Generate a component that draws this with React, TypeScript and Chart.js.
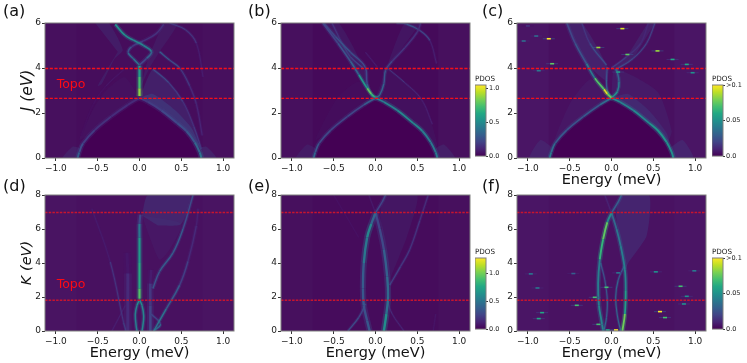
import React, { useEffect, useRef } from "react";
import { Chart, registerables } from "chart.js";

Chart.register(...registerables);

const FONT = '"DejaVu Sans"';
const energyTicks = [-1, -0.5, 0, 0.5, 1];
const jTicks = [0, 2, 4, 6];
const kTicks = [0, 2, 4, 6, 8];
const jLines = [2.65, 3.98];
const kLines = [1.81, 6.97];
const viridisStops = ["#440154", "#482475", "#414487", "#355f8d", "#2a788e", "#21918c", "#22a884", "#44bf70", "#7ad151", "#bddf26", "#fde725"];

// Panel (a): ridges as [energy, J, PDOS level]
const aLowR = [[0.74, 0, 0.4], [0.72, 0.25, 0.36], [0.66, 0.7, 0.28], [0.56, 1.2, 0.24], [0.45, 1.55, 0.22], [0.26, 2.12, 0.2], [0.1, 2.49, 0.16], [0, 2.67, 0.16]];
const aLowL = [[-0.74, 0, 0.34], [-0.72, 0.25, 0.26], [-0.675, 0.65, 0.2], [-0.535, 1.24, 0.15], [-0.337, 1.84, 0.13], [-0.14, 2.36, 0.12], [0, 2.67, 0.12]];
const aCenter = [[0, 2.75, 0.85], [0, 3.1, 0.8], [0, 3.6, 0.6], [0, 4.1, 0.5]];
const aCrossA = [[-0.29, 5.94, 0.5], [-0.175, 5.46, 0.5], [-0.075, 5.24, 0.45], [0.044, 5.01, 0.45], [0.143, 4.72, 0.4], [0.083, 4.42, 0.22], [0, 4.13, 0.2]];
const aCrossB = [[0, 4.13, 0.4], [-0.075, 4.42, 0.38], [-0.135, 4.68, 0.3], [-0.095, 4.94, 0.18], [0.044, 5.2, 0.14], [0.2, 5.53, 0.14], [0.29, 5.94, 0.14]];
const aRightA = [[0.24, 4.72, 0.3], [0.36, 4.35, 0.28], [0.48, 4.0, 0.2], [0.6, 3.2, 0.13], [0.68, 2.4, 0.1], [0.75, 1, 0.1]];
const aRightB = [[0.16, 3.95, 0.25], [0.35, 3.35, 0.2], [0.52, 2.5, 0.15], [0.65, 1.4, 0.13], [0.74, 0.4, 0.18]];
const aRightC = [[0.36, 6, 0.14], [0.55, 5.7, 0.2], [0.68, 5.1, 0.1], [0.76, 3.6, 0.06]];
const aLeftThin = [[-0.18, 3.95, 0.07], [-0.4, 3.2, 0.06], [-0.55, 2.4, 0.04], [-0.7, 1, 0.04]];
const aFanRight = [[0, 2.67], [0.16, 3.95], [0.35, 3.35], [0.52, 2.5], [0.65, 1.4], [0.74, 0.4], [0.56, 1.2], [0.26, 2.12]];
const aFanHug = [[0.02, 2.7], [0.16, 2.85], [0.42, 2.15], [0.62, 1.35], [0.74, 0.35], [0.56, 1.2], [0.26, 2.12]];
const aFanLeft = [[0, 2.67], [-0.18, 3.6], [-0.4, 3.0], [-0.55, 2.2], [-0.72, 0.8], [-0.535, 1.24], [-0.14, 2.36]];
const aBandL = [[-0.53, 6], [-0.37, 6], [-0.2, 4.8], [-0.3, 4.4], [-0.45, 3.3], [-0.5, 3.2], [-0.26, 4.72]];
const aBandR = [[0.28, 6], [0.46, 6], [0.24, 4.72], [0.12, 4.0], [0.02, 3.2], [0.1, 4.4]];
const aGlowR = [[0.74, 0], [0.92, 0], [0.8, 0.5], [0.72, 0.45]];
const aGlowL = [[-0.74, 0], [-0.92, 0], [-0.8, 0.5], [-0.72, 0.45]];

// Panel (b)
const bLowR = [[0.74, 0, 0.42], [0.72, 0.25, 0.4], [0.66, 0.7, 0.4], [0.56, 1.2, 0.42], [0.45, 1.55, 0.48], [0.26, 2.12, 0.46], [0.1, 2.49, 0.4], [0, 2.67, 0.4]];
const bLowL = [[-0.74, 0, 0.35], [-0.72, 0.25, 0.3], [-0.675, 0.65, 0.24], [-0.535, 1.24, 0.2], [-0.337, 1.84, 0.2], [-0.14, 2.36, 0.22], [0, 2.67, 0.35]];
const bUpL = [[0, 2.67, 0.5], [-0.05, 2.85, 0.8], [-0.1, 3.1, 0.7], [-0.2, 3.7, 0.35], [-0.3, 4.3, 0.28], [-0.45, 5.1, 0.22], [-0.63, 6, 0.18]];
const bUpL2 = [[-0.62, 6, 0.18], [-0.48, 5.4, 0.26], [-0.3, 4.7, 0.25], [-0.125, 4.05, 0.22], [-0.1, 3.3, 0.2], [-0.045, 2.8, 0.3], [0, 2.67, 0.35]];
const bUpL3 = [[-0.52, 6, 0.12], [-0.4, 5.1, 0.18], [-0.3, 4.5, 0.2], [-0.15, 4, 0.2]];
const bUpR = [[0, 2.67, 0.4], [0.05, 2.8, 0.35], [0.1, 3.3, 0.28], [0.12, 3.9, 0.25], [0.2, 4.3, 0.16], [0.35, 4.9, 0.14], [0.5, 5.6, 0.14], [0.54, 6, 0.12]];
const bThin = [[0.14, 4, 0.18], [0.35, 3.35, 0.14], [0.55, 2.6, 0.1], [0.68, 1.5, 0.08]];
const bTop = [[0.25, 6, 0.16], [0.37, 5.95, 0.22], [0.53, 5.67, 0.3], [0.65, 5.22, 0.12], [0.73, 4.2, 0.05]];
const bMid = [[-0.12, 4.7, 0.08], [0.02, 4.05, 0.08]];
const bFanR = [[0, 2.67], [0.14, 3.9], [0.38, 3.25], [0.6, 2.3], [0.74, 0.5], [0.56, 1.2], [0.26, 2.12]];
const bFanL = [[0, 2.67], [-0.2, 3.4], [-0.45, 2.7], [-0.72, 0.8], [-0.535, 1.24]];
const bBandL = [[-0.63, 6], [-0.44, 6], [-0.14, 4], [-0.07, 3], [-0.3, 4.3]];
const bBandR = [[0.54, 6], [0.35, 6], [0.16, 4.3], [0.1, 3.5], [0.2, 4.3]];
const bGlowR = [[0.74, 0], [0.95, 0], [0.82, 0.6], [0.72, 0.45]];
const bGlowL = [[-0.74, 0], [-0.95, 0], [-0.82, 0.6], [-0.72, 0.45]];

// Panel (c)
const cLowR = [[0.74, 0, 0.5], [0.72, 0.25, 0.48], [0.66, 0.7, 0.5], [0.56, 1.2, 0.52], [0.45, 1.55, 0.5], [0.26, 2.12, 0.44], [0.1, 2.49, 0.42], [0, 2.67, 0.5]];
const cLowL = [[-0.74, 0, 0.42], [-0.72, 0.25, 0.4], [-0.675, 0.65, 0.3], [-0.535, 1.24, 0.26], [-0.337, 1.84, 0.26], [-0.14, 2.36, 0.3], [0, 2.67, 0.4]];
const cUpL = [[0, 2.67, 0.6], [-0.05, 2.85, 0.95], [-0.09, 3.05, 0.95], [-0.2, 3.55, 0.5], [-0.3, 4.2, 0.3], [-0.435, 5.1, 0.22], [-0.535, 6, 0.2]];
const cUpLb = [[-0.06, 4.13, 0.3], [-0.26, 5.1, 0.18], [-0.355, 6, 0.14]];
const cUpRa = [[0.04, 3.9, 0.25], [0.26, 4.43, 0.2], [0.42, 5.1, 0.2], [0.52, 6, 0.18]];
const cUpRb = [[0, 4.0, 0.2], [0.18, 4.5, 0.15], [0.35, 5.1, 0.12], [0.44, 6, 0.1]];
const cInL = [[0, 2.67, 0.5], [-0.05, 3, 0.35], [-0.06, 3.5, 0.25], [-0.05, 4.05, 0.22]];
const cInR = [[0, 2.67, 0.5], [0.07, 2.95, 0.5], [0.09, 3.4, 0.35], [0.06, 3.95, 0.3]];
const cBandL = [[-0.535, 6], [-0.355, 6], [-0.06, 4.13], [-0.05, 3.4], [-0.3, 4.2], [-0.435, 5.1]];
const cBandR = [[0.52, 6], [0.44, 6], [0.18, 4.5], [0, 4], [0.04, 3.9], [0.26, 4.43]];
const cFanR = [[0, 2.67], [0.04, 3.95], [0.55, 2.95], [0.72, 1.2], [0.66, 0.7], [0.26, 2.12]];
const cFanHug = [[0.02, 2.7], [0.2, 2.85], [0.45, 2.1], [0.66, 1.1], [0.72, 0.25], [0.56, 1.2], [0.26, 2.12]];
const cFanL = [[0, 2.67], [-0.25, 3.5], [-0.5, 2.4], [-0.72, 0.4], [-0.535, 1.24]];
const cGlowR = [[0.74, 0], [0.98, 0], [0.85, 0.8], [0.7, 0.45]];
const cGlowL = [[-0.74, 0], [-0.98, 0], [-0.85, 0.8], [-0.7, 0.45]];
const cSpots = [[-1.0, 5.87, 0.15], [-0.9, 5.42, 0.35], [-0.75, 5.3, 1], [-1.05, 5.2, 0.35], [0.13, 5.75, 0.95], [-0.157, 4.91, 0.85], [0.19, 4.6, 0.75], [0.55, 4.76, 0.85], [0.73, 4.38, 0.6], [0.9, 4.16, 0.6], [0.97, 3.79, 0.5], [-0.71, 4.19, 0.75], [-0.87, 3.88, 0.4], [0.08, 3.82, 0.55]];

// Panel (d)
const dCenter = [[0, 1.9, 0.8], [0, 2.5, 0.65], [0, 4, 0.58], [0, 5.5, 0.5], [0, 6.3, 0.3], [0.01, 6.85, 0.12]];
const dLobeL = [[0, 1.85, 0.5], [-0.03, 1.5, 0.45], [-0.05, 1, 0.42], [-0.04, 0.3, 0.42], [-0.03, 0, 0.42]];
const dLobeR = [[0, 1.85, 0.5], [0.03, 1.5, 0.45], [0.05, 0.9, 0.45], [0.04, 0.3, 0.45], [0.03, 0, 0.45]];
const dRightA = [[0.17, 0, 0.45], [0.32, 1.3, 0.32], [0.48, 2.7, 0.25], [0.58, 4.1, 0.12], [0.68, 6.2, 0.12], [0.7, 7.2, 0.05]];
const dRightB = [[0.16, 2.5, 0.22], [0.24, 3.5, 0.3], [0.4, 4.6, 0.28], [0.52, 6, 0.28], [0.64, 8, 0.18]];
const dBandR = [[0.13, 0, 0.2], [0.13, 1.5, 0.2], [0.13, 2.8, 0.12], [0.14, 3.6, 0.03]];
const dBandL = [[-0.14, 0, 0.1], [-0.14, 2, 0.14], [-0.14, 3.4, 0.1], [-0.15, 4.6, 0.02]];
const dLeftA = [[-0.57, 7.2, 0.05], [-0.35, 4.07, 0.1], [-0.19, 0.5, 0.2], [-0.16, 0, 0.22]];
const dLeftB = [[-0.33, 0, 0.06], [-0.17, 1.5, 0.12]];
const dCrossR = [[0.17, 0, 0.4], [0.25, 0.4, 0.3], [0.14, 1, 0.1]];
const dFanTop = [[0.03, 6.8], [0.1, 8], [0.6, 8], [0.5, 6.3], [0.22, 6.2]];
const dFanTail = [[0.03, 6.8], [0.5, 6.3], [0.36, 4.8], [0.24, 4.2], [0.1, 5.8]];

// Panel (e)
const eLensL = [[0, 6.95, 0.25], [-0.05, 6.3, 0.4], [-0.1, 5.5, 0.5], [-0.14, 4, 0.28], [-0.15, 2.5, 0.3], [-0.14, 1.5, 0.25], [-0.1, 0.6, 0.25], [-0.07, 0, 0.3]];
const eLensR = [[0, 6.95, 0.18], [0.05, 6, 0.22], [0.1, 4.8, 0.22], [0.14, 3.2, 0.38], [0.15, 2, 0.3], [0.13, 1, 0.42], [0.1, 0, 0.55]];
const eTopR = [[0, 6.95, 0.18], [0.08, 7.6, 0.22], [0.12, 8, 0.22]];
const eTopL = [[0, 6.95, 0.1], [-0.08, 8, 0.05]];
const eCrossL = [[-0.33, 0, 0.24], [-0.2, 0.8, 0.22], [-0.12, 1.6, 0.2]];
const eCrossR = [[0.34, 0, 0.1], [0.2, 1, 0.12], [0.14, 1.8, 0.14]];
const eOuter = [[0.17, 2.7, 0.2], [0.3, 3.8, 0.16], [0.41, 4.8, 0.16], [0.53, 6.5, 0.14], [0.63, 8, 0.12]];
const eFan = [[0.05, 6.9], [0.12, 8], [0.5, 8], [0.38, 5.6], [0.17, 3]];
const eThinL = [[-0.5, 8, 0.05], [-0.2, 5.5, 0.05]];
const eThinR = [[0.69, 0, 0.07], [0.72, 1, 0.05]];

// Panel (f)
const fLensLo = [[0, 6.95, 0.3], [-0.05, 6.4, 0.65], [-0.1, 5.4, 0.85], [-0.14, 4.2, 0.45], [-0.16, 2.8, 0.4], [-0.15, 1.5, 0.45], [-0.12, 0.6, 0.45], [-0.1, 0, 0.45]];
const fLensLi = [[-0.09, 0, 0.35], [-0.06, 0.8, 0.3], [-0.05, 1.8, 0.3], [-0.08, 3, 0.25], [-0.13, 4, 0.25]];
const fLensRo = [[0, 6.95, 0.3], [0.06, 6, 0.38], [0.11, 5, 0.4], [0.16, 3.6, 0.45], [0.17, 2.4, 0.45], [0.16, 1, 0.65], [0.13, 0, 0.9]];
const fLensRi = [[0.11, 0, 0.35], [0.07, 0.9, 0.3], [0.05, 2, 0.35], [0.08, 3, 0.3], [0.15, 3.8, 0.25]];
const fTopR = [[0, 6.95, 0.3], [0.08, 7.6, 0.3], [0.12, 8, 0.3]];
const fTopL = [[0, 6.95, 0.12], [-0.08, 8, 0.08]];
const fFan = [[0.05, 6.9], [0.12, 8], [0.45, 8], [0.42, 5.6], [0.2, 4], [0.15, 3.4]];
const fSpots = [[-0.965, 3.36, 0.4], [-0.456, 3.38, 0.3], [0.53, 3.48, 0.5], [0.99, 3.54, 0.4], [-0.885, 2.53, 0.4], [-0.06, 2.57, 0.7], [0.826, 2.63, 0.7], [0.9, 2.04, 0.5], [-0.2, 1.98, 0.7], [-0.415, 1.51, 0.7], [0.866, 1.59, 0.5], [0.58, 1.14, 1], [-0.83, 1.08, 0.6], [-0.87, 0.73, 0.6], [0.64, 0.79, 0.7], [-0.157, 0.39, 0.7], [-0.045, 0.06, 0.6], [0.054, 0.06, 1], [0.08, 3.42, 0.4]];

const hexRgb = (h: string) => [1, 3, 5].map((i) => parseInt(h.slice(i, i + 2), 16));
function viridis(v: number, alpha = 1) {
  const t = Math.max(0, Math.min(1, v)) * (viridisStops.length - 1);
  const i = Math.min(viridisStops.length - 2, Math.floor(t));
  const a = hexRgb(viridisStops[i]);
  const b = hexRgb(viridisStops[i + 1]);
  const c = a.map((x, k) => Math.round(x + (b[k] - x) * (t - i)));
  return `rgba(${c[0]},${c[1]},${c[2]},${alpha})`;
}

type Panel = {
  left: number; top: number; bg: string; strip: string; yMax: number; yTicks: number[]; lines: number[];
  lineColor: string; lineDash: number[]; xTitle: boolean; yTitle?: string; ySize?: number; topo?: number;
  arcs?: [number[][], number[][]]; fans: [number[][], number][]; curves: [number[][], number][]; spots?: number[][];
};

const panels: Panel[] = [
  { left: 45, top: 23, bg: "#47105e", strip: "#460d5c", yMax: 6, yTicks: jTicks, lines: jLines, lineColor: "#f5101a", lineDash: [3.2, 1.5], xTitle: false, yTitle: "J (eV)", ySize: 15.5, topo: 3.25, arcs: [aLowR, aLowL],
    fans: [[aFanRight, 0.3], [aFanHug, 0.45], [aFanLeft, 0.07], [aBandL, 0.26], [aBandR, 0.2], [aGlowR, 0.3], [aGlowL, 0.25]],
    curves: [[aRightC, 1.1], [aLeftThin, 0.8], [aRightB, 1.1], [aRightA, 1.2], [aLowL, 1.9], [aLowR, 2.1], [aCrossB, 1.5], [aCrossA, 1.7], [aCenter, 2.3]] },
  { left: 281, top: 23, bg: "#47105e", strip: "#450a5a", yMax: 6, yTicks: jTicks, lines: jLines, lineColor: "#f5101a", lineDash: [3.2, 1.5], xTitle: false, arcs: [bLowR, bLowL],
    fans: [[bFanR, 0.1], [bFanL, 0.05], [bBandL, 0.2], [bBandR, 0.18], [bGlowR, 0.25], [bGlowL, 0.2]],
    curves: [[bMid, 0.9], [bThin, 0.9], [bTop, 1.1], [bUpL3, 1.1], [bUpR, 1.4], [bUpL2, 1.4], [bUpL, 1.6], [bLowL, 1.7], [bLowR, 1.9]] },
  { left: 517, top: 23, bg: "#4a1565", strip: "#481060", yMax: 6, yTicks: jTicks, lines: jLines, lineColor: "#f5101a", lineDash: [3.2, 1.5], xTitle: true, arcs: [cLowR, cLowL],
    fans: [[cFanR, 0.18], [cFanHug, 0.3], [cFanL, 0.12], [cBandL, 0.3], [cBandR, 0.28], [cGlowR, 0.3], [cGlowL, 0.25]],
    curves: [[cUpLb, 1.1], [cUpRb, 1.1], [cUpRa, 1.1], [cInL, 1.2], [cInR, 1.5], [cLowL, 1.7], [cLowR, 1.9], [cUpL, 1.7]], spots: cSpots },
  { left: 45, top: 195, bg: "#491462", strip: "#481160", yMax: 8, yTicks: kTicks, lines: kLines, lineColor: "#c8142e", lineDash: [2.5, 1.2], xTitle: true, yTitle: "K (eV)", ySize: 14.5, topo: 2.75,
    fans: [[dFanTop, 0.36], [dFanTail, 0.12]],
    curves: [[dLeftB, 0.9], [dLeftA, 1.1], [dBandL, 3], [dBandR, 2.6], [dCrossR, 1.2], [dRightA, 1.4], [dRightB, 1.4], [dLobeL, 1.5], [dLobeR, 1.5], [dCenter, 2.2]] },
  { left: 281, top: 195, bg: "#47105e", strip: "#460c5c", yMax: 8, yTicks: kTicks, lines: kLines, lineColor: "#c8142e", lineDash: [2.5, 1.2], xTitle: true,
    fans: [[eFan, 0.16]],
    curves: [[eThinL, 0.8], [eThinR, 0.9], [eTopL, 0.9], [eTopR, 1.5], [eOuter, 1.2], [eCrossL, 1.2], [eCrossR, 0.9], [eLensR, 2.4], [eLensL, 2.4]] },
  { left: 517, top: 195, bg: "#4a1565", strip: "#491262", yMax: 8, yTicks: kTicks, lines: kLines, lineColor: "#c8142e", lineDash: [2.5, 1.2], xTitle: true,
    fans: [[fFan, 0.34]],
    curves: [[fTopL, 1.1], [fTopR, 1.6], [fLensLi, 1.1], [fLensRi, 1.1], [fLensRo, 1.8], [fLensLo, 1.9]], spots: fSpots },
];

const colorbars = [
  { left: 475, top: 85, height: 72, max: 1.05, ticks: [0, 0.5, 1], labels: ["0.0", "0.5", "1.0"] },
  { left: 712, top: 85, height: 72, max: 0.1, ticks: [0, 0.05, 0.1], labels: ["0.0", "0.05", ">0.1"] },
  { left: 475, top: 258, height: 72, max: 1.27, ticks: [0, 0.5, 1], labels: ["0.0", "0.5", "1.0"] },
  { left: 712, top: 258, height: 72, max: 0.1, ticks: [0, 0.05, 0.1], labels: ["0.0", "0.05", ">0.1"] },
];

const panelLetters = [["(a)", 3, 1], ["(b)", 248, 1], ["(c)", 482, 1], ["(d)", 3, 176], ["(e)", 248, 176], ["(f)", 482, 176]];

const PLOT_W = 189;
const PAD_L = 44, PAD_T = 8, PAD_R = 6, AX_B = 31;

const framePlugin = {
  id: "frame",
  beforeDatasetsDraw(chart: any, _a: any, o: any) {
    if (!o.bg) return;
    const { ctx, chartArea: c } = chart;
    const x = chart.scales.x;
    ctx.save();
    ctx.fillStyle = o.bg;
    ctx.fillRect(c.left, c.top, c.width, c.height);
    ctx.fillStyle = o.strip;
    const l = x.getPixelForValue(-0.75);
    ctx.fillRect(l, c.top, x.getPixelForValue(0.75) - l, c.height);
    ctx.restore();
  },
  afterDatasetsDraw(chart: any, _a: any, o: any) {
    const { ctx, chartArea: c } = chart;
    ctx.save();
    ctx.strokeStyle = "#7f7f7f";
    ctx.lineWidth = 1;
    ctx.strokeRect(c.left, c.top, c.width, c.height);
    if (o.topo !== undefined) {
      ctx.fillStyle = "#ff0a14";
      ctx.font = `12.5px ${FONT}`;
      ctx.textBaseline = "middle";
      ctx.fillText("Topo", chart.scales.x.getPixelForValue(-0.99), chart.scales.y.getPixelForValue(o.topo));
    }
    if (o.note) {
      ctx.fillStyle = "#1a1a1a";
      ctx.font = `7.2px ${FONT}`;
      ctx.textBaseline = "bottom";
      ctx.fillText(o.note, c.left, c.top - 2);
    }
    ctx.restore();
  },
};

function buildDatasets(p: Panel) {
  const ds: any[] = [];
  if (p.arcs) {
    const pts = [...p.arcs[0], ...[...p.arcs[1]].reverse()];
    ds.push({ data: pts.map(([x, y]) => ({ x, y })), showLine: true, fill: "shape", backgroundColor: "#440154", borderWidth: 0, pointRadius: 0, tension: 0.4 });
  }
  p.fans.forEach(([pts, a]) => {
    ds.push({ data: pts.map(([x, y]) => ({ x, y })), showLine: true, fill: "shape", backgroundColor: `rgba(62,74,137,${a})`, borderWidth: 0, pointRadius: 0, tension: 0.2 });
  });
  p.curves.forEach(([pts, w]) => {
    const data = pts.map(([x, y, v]) => ({ x, y, v }));
    const seg = (alpha: number, k: number) => ({
      borderColor: (c: any) => viridis(((data[c.p0DataIndex].v + data[c.p1DataIndex].v) / 2) * k, alpha),
    });
    ds.push({ data, showLine: true, borderWidth: w * 2.6, borderColor: "#3e4a89", segment: seg(0.32, 0.9), pointRadius: 0, tension: 0.4 });
    ds.push({ data, showLine: true, borderWidth: w, borderColor: "#3e4a89", segment: seg(1, 1), pointRadius: 0, tension: 0.4 });
  });
  if (p.spots) {
    const data = p.spots.map(([x, y, v]) => ({ x, y, v }));
    ds.push({ data, pointStyle: "line", pointRadius: 6, pointBorderWidth: 1, pointBorderColor: data.map((d) => viridis(d.v * 0.3, 0.6)), pointBackgroundColor: "transparent" });
    ds.push({ data, pointStyle: "line", pointRadius: 2, pointBorderWidth: 1.6, pointBorderColor: data.map((d) => viridis(d.v)), pointBackgroundColor: "transparent" });
  }
  p.lines.forEach((y) => {
    ds.push({ data: [{ x: -1.13, y }, { x: 1.13, y }], showLine: true, borderColor: p.lineColor, borderWidth: 1.4, borderDash: p.lineDash, pointRadius: 0 });
  });
  ds.forEach((d, i) => (d.order = ds.length - i));
  return ds;
}

function PanelChart({ p }: { p: Panel }) {
  const ref = useRef<HTMLCanvasElement>(null);
  useEffect(() => {
    const fmt = (v: any) => Number(v).toFixed(1).replace("-", "\u2212");
    const chart = new Chart(ref.current as HTMLCanvasElement, {
      type: "scatter",
      data: { datasets: buildDatasets(p) },
      plugins: [framePlugin],
      options: {
        animation: false, responsive: false, events: [],
        layout: { autoPadding: false, padding: { left: 0, top: PAD_T, right: PAD_R, bottom: 0 } },
        plugins: { legend: { display: false }, tooltip: { enabled: false }, frame: { bg: p.bg, strip: p.strip, topo: p.topo } },
        scales: {
          x: {
            type: "linear", min: -1.13, max: 1.13,
            afterBuildTicks: (s: any) => { s.ticks = energyTicks.map((value) => ({ value })); },
            afterFit: (s: any) => { s.height = AX_B; },
            grid: { drawOnChartArea: false, drawTicks: true, tickLength: 3, color: "#333" },
            border: { display: false },
            ticks: { callback: fmt, maxRotation: 0, autoSkip: false, color: "#1a1a1a", padding: 2, font: { family: FONT, size: 9 } },
            title: { display: p.xTitle, text: "Energy (meV)", color: "#111", font: { family: FONT, size: 14.5 }, padding: { top: 0, bottom: 0 } },
          },
          y: {
            type: "linear", min: 0, max: p.yMax,
            afterBuildTicks: (s: any) => { s.ticks = p.yTicks.map((value) => ({ value })); },
            afterFit: (s: any) => { s.width = PAD_L; },
            grid: { drawOnChartArea: false, drawTicks: true, tickLength: 3, color: "#333" },
            border: { display: false },
            ticks: { callback: (v: any) => String(v), autoSkip: false, color: "#1a1a1a", padding: 1, font: { family: FONT, size: 9 } },
            title: { display: !!p.yTitle, text: p.yTitle, color: "#111", font: { family: FONT, size: p.ySize, style: "italic" }, padding: { top: 18, bottom: 0 } },
          },
        },
      } as any,
    });
    return () => chart.destroy();
  }, [p]);
  const h = p.yMax === 6 ? 135 : 136;
  return (
    <canvas ref={ref} width={PLOT_W + PAD_L + PAD_R} height={h + PAD_T + AX_B}
      style={{ position: "absolute", left: p.left - PAD_L, top: p.top - PAD_T, width: PLOT_W + PAD_L + PAD_R, height: h + PAD_T + AX_B }} />
  );
}

function ColorBar({ b }: { b: (typeof colorbars)[number] }) {
  const ref = useRef<HTMLCanvasElement>(null);
  useEffect(() => {
    const chart = new Chart(ref.current as HTMLCanvasElement, {
      type: "bar",
      data: {
        labels: ["PDOS"],
        datasets: [{
          data: [[0, b.max]],
          barPercentage: 1, categoryPercentage: 1, borderWidth: 0,
          backgroundColor: (c: any) => {
            const a = c.chart.chartArea;
            if (!a) return "#440154";
            const g = c.chart.ctx.createLinearGradient(0, a.bottom, 0, a.top);
            viridisStops.forEach((s, i) => g.addColorStop(i / (viridisStops.length - 1), s));
            return g;
          },
        }],
      },
      plugins: [framePlugin],
      options: {
        animation: false, responsive: false, events: [],
        layout: { autoPadding: false, padding: { left: 0, top: 12, right: 0, bottom: 4 } },
        plugins: { legend: { display: false }, tooltip: { enabled: false }, frame: { note: "PDOS" } },
        scales: {
          x: { display: false },
          y: {
            position: "right", min: 0, max: b.max,
            afterBuildTicks: (s: any) => { s.ticks = b.ticks.map((value) => ({ value })); },
            afterFit: (s: any) => { s.width = 24; },
            grid: { drawOnChartArea: false, drawTicks: true, tickLength: 2, color: "#333" },
            border: { display: false },
            ticks: {
              callback: (v: any) => b.labels[b.ticks.indexOf(v)],
              autoSkip: false, color: "#1a1a1a", padding: 1, font: { family: FONT, size: 6.5 },
            },
          },
        },
      } as any,
    });
    return () => chart.destroy();
  }, [b]);
  const w = 11 + 24;
  const h = b.height + 16;
  return <canvas ref={ref} width={w} height={h} style={{ position: "absolute", left: b.left, top: b.top - 12, width: w, height: h }} />;
}

export default function App() {
  return (
    <div style={{ position: "fixed", left: 0, top: 0, width: 747, height: 363, background: "#fff", overflow: "hidden", filter: "blur(0.5px)" }}>
      {panels.map((p, i) => <PanelChart key={i} p={p} />)}
      {colorbars.map((b, i) => <ColorBar key={i} b={b} />)}
      {panelLetters.map(([t, x, y]) => (
        <span key={t as string} style={{ position: "absolute", left: x as number, top: y as number, font: `16px ${FONT}`, color: "#111", lineHeight: "20px" }}>{t}</span>
      ))}
    </div>
  );
}
